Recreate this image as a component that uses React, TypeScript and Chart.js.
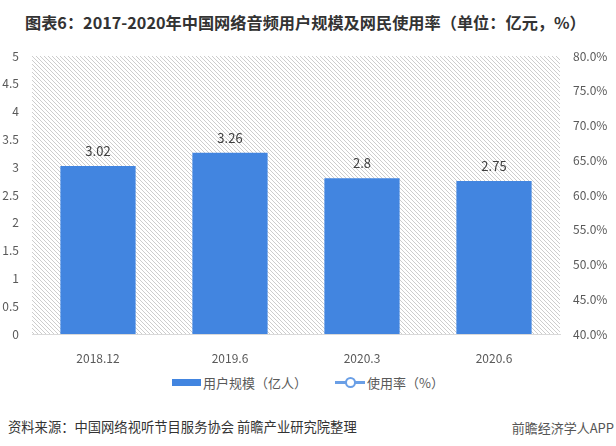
import React, { useEffect, useRef } from "react";
import { Chart, registerables } from "chart.js";

Chart.register(...registerables);

const categories = ["2018.12", "2019.6", "2020.3", "2020.6"];
const userScale = [3.02, 3.26, 2.8, 2.75];
const usageRate: (number | null)[] = [null, null, null, null];
const leftMin = 0;
const leftMax = 5;
const leftStep = 0.5;
const rightMin = 40;
const rightMax = 80;
const rightStep = 5;

const FONT = "'Microsoft YaHei', 'Noto Sans CJK SC', 'Noto Sans', sans-serif";
const BAR_COLOR = "#4285E0";
const LINE_COLOR = "#6A9FE6";

function makeHatch(): CanvasPattern | string {
  const c = document.createElement("canvas");
  c.width = 4;
  c.height = 4;
  const g = c.getContext("2d");
  if (!g) return "#eee";
  g.fillStyle = "#cdcdcd";
  for (let i = 0; i < 4; i++) g.fillRect(i, i, 1, 1);
  const p = g.createPattern(c, "repeat");
  return p || "#eee";
}

const hatchPlugin = {
  id: "hatchBg",
  beforeDatasetsDraw(chart: any) {
    const { ctx, chartArea } = chart;
    ctx.save();
    ctx.fillStyle = makeHatch();
    ctx.fillRect(chartArea.left, chartArea.top, chartArea.right - chartArea.left, chartArea.bottom - chartArea.top);
    ctx.restore();
  },
};

const labelPlugin = {
  id: "barLabels",
  afterDatasetsDraw(chart: any) {
    const { ctx } = chart;
    const meta = chart.getDatasetMeta(0);
    ctx.save();
    ctx.font = `13px ${FONT}`;
    ctx.fillStyle = "#404040";
    ctx.textAlign = "center";
    ctx.textBaseline = "middle";
    meta.data.forEach((bar: any, i: number) => {
      ctx.fillText(String(userScale[i]), bar.x, bar.y - 15);
    });
    ctx.restore();
  },
};

export default function App() {
  const ref = useRef<HTMLCanvasElement | null>(null);

  useEffect(() => {
    document.body.style.margin = "0";
    if (!ref.current) return;
    const chart = new Chart(ref.current, {
      type: "bar",
      data: {
        labels: categories,
        datasets: [
          {
            type: "bar",
            label: "用户规模（亿人）",
            data: userScale,
            backgroundColor: BAR_COLOR,
            barPercentage: 0.57,
            categoryPercentage: 1,
            yAxisID: "y",
            order: 2,
          },
          {
            type: "line",
            label: "使用率（%）",
            data: usageRate,
            borderColor: LINE_COLOR,
            backgroundColor: "#ffffff",
            pointRadius: 4,
            borderWidth: 2,
            yAxisID: "y1",
            order: 1,
          },
        ],
      } as any,
      options: {
        responsive: false,
        animation: false,
        layout: { padding: { top: 56, left: 0, right: 0, bottom: 0 } },
        plugins: {
          legend: { display: false },
          title: { display: false },
          tooltip: { enabled: false },
        },
        scales: {
          x: {
            grid: { display: false },
            border: { display: true, color: "#d9d9d9", width: 1 },
            ticks: { color: "#595959", font: { size: 12, family: FONT }, padding: 9 },
            afterFit(s: any) {
              s.height = 36;
            },
          },
          y: {
            position: "left",
            min: leftMin,
            max: leftMax,
            grid: { display: false, drawTicks: false },
            border: { display: false },
            ticks: {
              stepSize: leftStep,
              color: "#595959",
              font: { size: 12, family: FONT },
              padding: 13,
              callback: (v: any) => String(v),
            },
            afterFit(s: any) {
              s.width = 32;
            },
          },
          y1: {
            position: "right",
            min: rightMin,
            max: rightMax,
            grid: { display: false, drawTicks: false },
            border: { display: false },
            ticks: {
              stepSize: rightStep,
              color: "#595959",
              font: { size: 12, family: FONT },
              padding: 13,
              callback: (v: any) => Number(v).toFixed(1) + "%",
            },
            afterFit(s: any) {
              s.width = 56;
            },
          },
        },
      } as any,
      plugins: [hatchPlugin, labelPlugin],
    });
    return () => chart.destroy();
  }, []);

  const textStyle: React.CSSProperties = { fontFamily: FONT, color: "#595959", fontSize: 13 };

  return (
    <div style={{ position: "absolute", left: 0, top: 0, width: 616, height: 446, background: "#fff", overflow: "hidden" }}>
      <div
        style={{
          position: "absolute",
          left: 25,
          top: 10,
          fontFamily: FONT,
          fontWeight: "bold",
          fontSize: 16.2,
          lineHeight: "24px",
          color: "#333333",
          whiteSpace: "nowrap",
        }}
      >
        图表6：2017-2020年中国网络音频用户规模及网民使用率（单位：亿元，%）
      </div>
      <canvas ref={ref} width={616} height={370} style={{ position: "absolute", left: 0, top: 0, width: 616, height: 370 }} />
      <div style={{ position: "absolute", left: 172, top: 372, height: 20, display: "flex", alignItems: "center", whiteSpace: "nowrap" }}>
        <span style={{ display: "inline-block", width: 29, height: 7, background: BAR_COLOR, marginRight: 2 }} />
        <span style={textStyle}>用户规模（亿人）</span>
        <span style={{ position: "relative", display: "inline-block", width: 30, height: 20, marginLeft: 28, marginRight: 2 }}>
          <span style={{ position: "absolute", left: 0, top: 9, width: 30, height: 3, background: LINE_COLOR }} />
          <span
            style={{
              position: "absolute",
              left: 10,
              top: 5,
              width: 7,
              height: 7,
              borderRadius: "50%",
              background: "#fff",
              border: `2px solid ${LINE_COLOR}`,
            }}
          />
        </span>
        <span style={textStyle}>使用率（%）</span>
      </div>
      <div style={{ position: "absolute", left: 8, top: 417, fontFamily: FONT, fontSize: 13.3, lineHeight: "20px", color: "#333", whiteSpace: "nowrap" }}>
        资料来源：中国网络视听节目服务协会 前瞻产业研究院整理
      </div>
      <div style={{ position: "absolute", right: 2, top: 418, fontFamily: FONT, fontSize: 13, lineHeight: "20px", color: "#555", whiteSpace: "nowrap" }}>
        前瞻经济学人APP
      </div>
    </div>
  );
}
